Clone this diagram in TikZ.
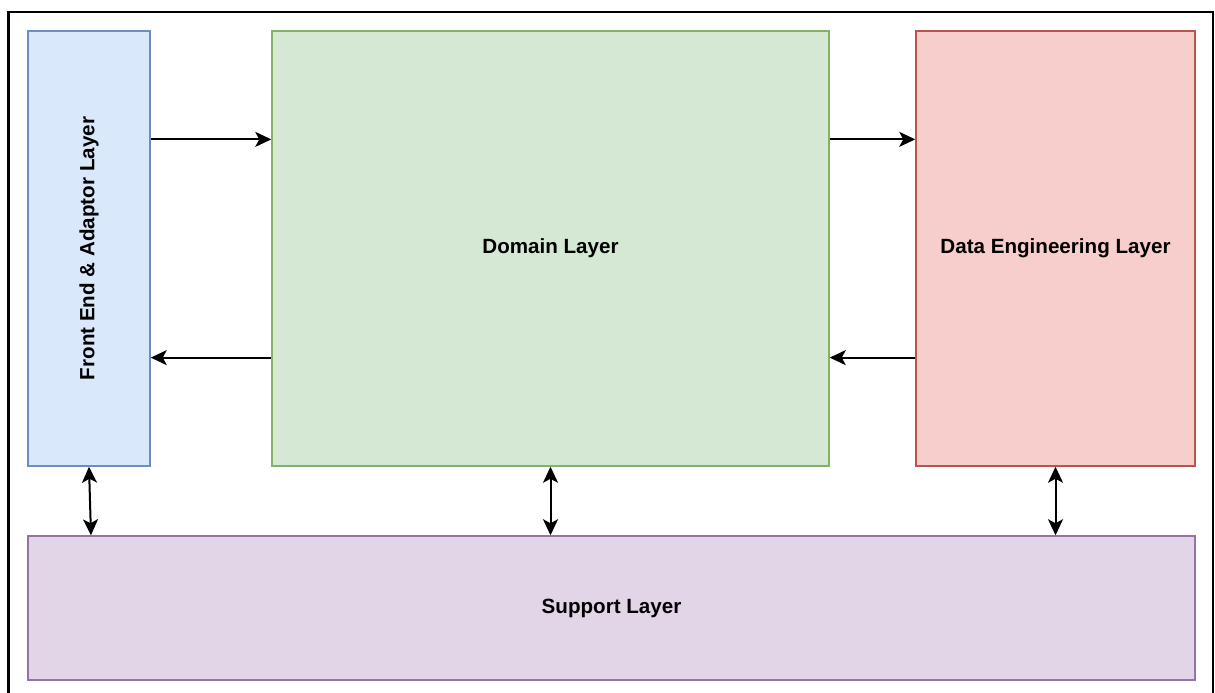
\documentclass[tikz,border=0pt]{standalone}
\usepackage{fontspec}
\setmainfont{Liberation Sans}
\usepackage{graphicx}
\usetikzlibrary{arrows.meta,calc}
\definecolor{feFill}{HTML}{DAE8FC}\definecolor{feLine}{HTML}{6C8EBF}
\definecolor{domFill}{HTML}{D5E8D4}\definecolor{domLine}{HTML}{82B366}
\definecolor{datFill}{HTML}{F8CECC}\definecolor{datLine}{HTML}{B85450}
\definecolor{supFill}{HTML}{E1D5E7}\definecolor{supLine}{HTML}{9673A6}
\begin{document}
\begin{tikzpicture}[x=1pt,y=-1pt,
  layerbox/.style={draw, line width=1.5pt, inner sep=0pt, align=center,
    font=\fontsize{20.6}{24}\selectfont\bfseries},
  oneway/.style={line width=2pt, -{Stealth[length=16pt,width=15pt,inset=4pt]}},
  twoway/.style={line width=2pt, {Stealth[length=16pt,width=15pt,inset=4pt]}-{Stealth[length=16pt,width=15pt,inset=4pt]}}]
\useasboundingbox (0,0) rectangle (1215,693);
\draw[line width=2.5pt] (8.5,693) -- (8.5,12) -- (1213,12) -- (1213,693);

\node[layerbox, fill=feFill, draw=feLine, minimum width=122pt, minimum height=435pt] (fe) at (89,248.5)
  {\rotatebox{90}{Front End \& Adaptor Layer}};
\node[layerbox, fill=domFill, draw=domLine, minimum width=557pt, minimum height=435pt] (dom) at (550.5,248.5)
  {Domain Layer};
\node[layerbox, fill=datFill, draw=datLine, minimum width=279pt, minimum height=435pt] (dat) at (1055.5,248.5)
  {Data Engineering Layer};
\node[layerbox, fill=supFill, draw=supLine, minimum width=1167pt, minimum height=144pt] (sup) at (611.5,608)
  {Support Layer};

\draw[oneway] ($(fe.north east)!0.25!(fe.south east)$) -- ($(dom.north west)!0.25!(dom.south west)$);
\draw[oneway] ($(dom.north west)!0.75!(dom.south west)$) -- ($(fe.north east)!0.75!(fe.south east)$);
\draw[oneway] ($(dom.north east)!0.25!(dom.south east)$) -- ($(dat.north west)!0.25!(dat.south west)$);
\draw[oneway] ($(dat.north west)!0.75!(dat.south west)$) -- ($(dom.north east)!0.75!(dom.south east)$);

\coordinate (feS) at ($(fe.south |- sup.north)+(2,0)$);
\draw[twoway] (fe.south) -- (feS);
\draw[twoway] (dom.south) -- (dom.south |- sup.north);
\draw[twoway] (dat.south) -- (dat.south |- sup.north);
\end{tikzpicture}
\end{document}
